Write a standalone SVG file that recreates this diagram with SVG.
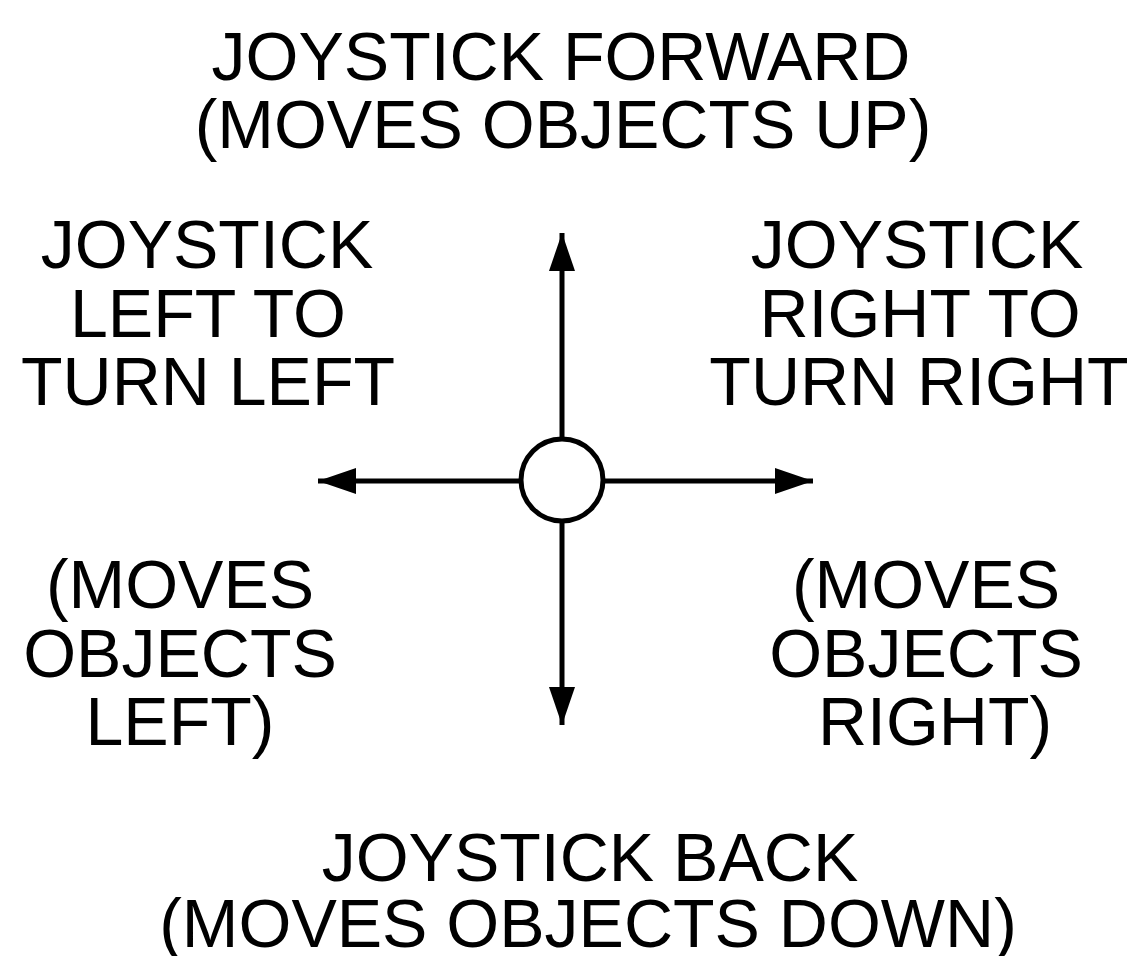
<svg xmlns="http://www.w3.org/2000/svg" width="1137" height="956" viewBox="0 0 1137 956">
<style>
text{font-family:"Liberation Sans",Arial,sans-serif;font-size:68px;fill:#000;text-anchor:middle}
.ln{stroke:#000;stroke-width:5;fill:none}
</style>
<defs>
<marker id="ah" viewBox="0 0 38 26" refX="38" refY="13" markerWidth="38" markerHeight="26" markerUnits="userSpaceOnUse" orient="auto">
<path d="M0,0 L38,13 L0,26 Z" fill="#000"/>
</marker>
</defs>
<rect width="1137" height="956" fill="#fff"/>
<g id="connectors">
<line class="ln" x1="562" y1="439" x2="562" y2="233" marker-end="url(#ah)"/>
<line class="ln" x1="562" y1="521" x2="562" y2="725" marker-end="url(#ah)"/>
<line class="ln" x1="521" y1="481" x2="318" y2="481" marker-end="url(#ah)"/>
<line class="ln" x1="603" y1="481" x2="813" y2="481" marker-end="url(#ah)"/>
</g>
<g id="center">
<circle cx="562" cy="480" r="41" fill="#fff" stroke="#000" stroke-width="5"/>
</g>
<g id="forward">
<text x="561" y="80">JOYSTICK FORWARD</text>
<text x="563" y="148">(MOVES OBJECTS UP)</text>
</g>
<g id="left">
<text x="207" y="268">JOYSTICK</text>
<text x="208" y="337">LEFT TO</text>
<text x="208" y="405">TURN LEFT</text>
</g>
<g id="right">
<text x="917" y="268">JOYSTICK</text>
<text x="920" y="337">RIGHT TO</text>
<text x="919" y="405">TURN RIGHT</text>
</g>
<g id="moves-left">
<text x="180" y="608">(MOVES</text>
<text x="180" y="677">OBJECTS</text>
<text x="180" y="745">LEFT)</text>
</g>
<g id="moves-right">
<text x="926" y="608">(MOVES</text>
<text x="926" y="677">OBJECTS</text>
<text x="935" y="745">RIGHT)</text>
</g>
<g id="back">
<text x="590" y="881">JOYSTICK BACK</text>
<text x="588" y="947">(MOVES OBJECTS DOWN)</text>
</g>
</svg>
